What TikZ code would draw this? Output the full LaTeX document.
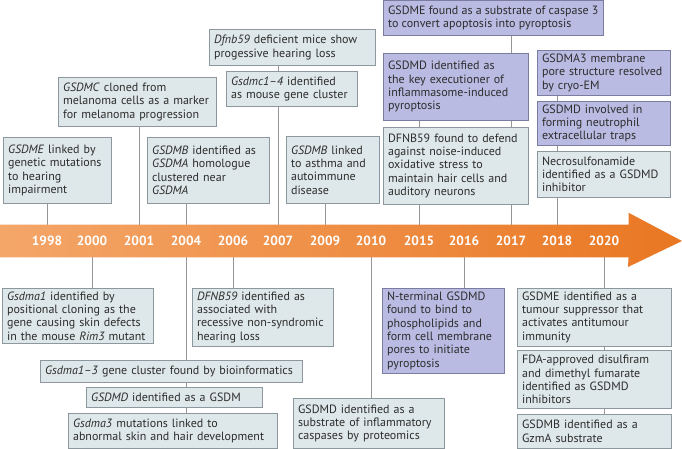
\documentclass[tikz,border=0pt]{standalone}
\usepackage{fontspec}
\setmainfont{PT Sans}
\usetikzlibrary{positioning,backgrounds}
\definecolor{boxfill}{RGB}{222,231,233}
\definecolor{boxline}{RGB}{140,152,157}
\definecolor{purplefill}{RGB}{185,187,226}
\definecolor{purpleline}{RGB}{122,124,160}
\definecolor{txt}{RGB}{45,45,45}
\definecolor{conn}{RGB}{150,150,150}
\definecolor{orangeL}{RGB}{244,166,105}
\definecolor{orangeR}{RGB}{233,119,34}
\tikzset{
  box/.style={rectangle, draw=boxline, fill=boxfill, anchor=north west, align=left, text=txt, font=\fontsize{9}{10}\selectfont, inner xsep=3.5pt, inner ysep=2.5pt, line width=0.6pt},
  pbox/.style={box, fill=purplefill, draw=purpleline},
  year/.style={text=white, font=\fontsize{10}{12}\selectfont\bfseries, inner sep=0pt},
  link/.style={draw=conn, line width=0.75pt}
}

\begin{document}
\begin{tikzpicture}[x=0.75pt, y=-0.75pt, node distance=3.75pt]
\useasboundingbox (0,0) rectangle (682,449);

% timeline arrow
\node[inner sep=0pt, minimum width=471pt, minimum height=24pt, anchor=west] (band) at (0,241) {};
\shade[left color=orangeL, right color=orangeR] (band.north west) -- (band.north east) -- ++(0,-12) -- (682,241) -- (628,267) -- (band.south east) -- (band.south west) -- cycle;
\node[year] (y1998) at (47,241) {1998};
\node[year] (y2000) at (92,241) {2000};
\node[year] (y2001) at (139,241) {2001};
\node[year] (y2004) at (186,241) {2004};
\node[year] (y2006) at (233,241) {2006};
\node[year] (y2007) at (278,241) {2007};
\node[year] (y2009) at (325,241) {2009};
\node[year] (y2010) at (371,241) {2010};
\node[year] (y2015) at (419,241) {2015};
\node[year] (y2016) at (464,241) {2016};
\node[year] (y2017) at (511,241) {2017};
\node[year] (y2018) at (557,241) {2018};
\node[year] (y2020) at (604,241) {2020};

% above the arrow
\node[box, text width=74pt, minimum height=49.5pt] (t1998) at (3,137) {\textit{GSDME} linked by\\genetic mutations\\to hearing\\impairment};
\node[box, text width=111.5pt, minimum height=36.75pt] (t2001) at (58,77) {\textit{GSDMC} cloned from\\melanoma cells as a marker\\for melanoma progression};
\node[box, text width=84.5pt, minimum height=49.5pt] (t2004) at (147,137) {\textit{GSDMB} identified as\\\textit{GSDMA} homologue\\clustered near\\\textit{GSDMA}};
\node[box, text width=117.5pt, minimum height=27pt] (t2007a) at (209,29) {\textit{Dfnb59} deficient mice show\\progessive hearing loss};
\node[box, text width=91.25pt, minimum height=26.25pt] (t2007b) at (226,71) {\textit{Gsdmc1–4} identified\\as mouse gene cluster};
\node[box, text width=62.75pt, minimum height=50.25pt] (t2009) at (286,136) {\textit{GSDMB} linked\\to asthma and\\autoimmune\\disease};
\node[pbox, minimum height=26.25pt] (t2017) at (383,0) {GSDME found as a substrate of caspase 3\\to convert apoptosis into pyroptosis};
\node[pbox, text width=101.75pt, minimum height=50.25pt] (t2015a) at (383,53) {GSDMD identified as\\the key executioner of\\inflammasome-induced\\pyroptosis};
\node[box, text width=101.75pt, minimum height=57.75pt, below=4.5pt of t2015a.south west, anchor=north west] (t2015b) {DFNB59 found to defend\\against noise-induced\\oxidative stress to\\maintain hair cells and\\auditory neurons};
\node[pbox, text width=92.75pt, minimum height=33.75pt] (t2018a) at (537,50) {GSDMA3 membrane\\pore structure resolved\\by cryo-EM};
\node[pbox, text width=92.75pt, minimum height=31.5pt, below=of t2018a.south west, anchor=north west] (t2018b) {GSDMD involved in\\forming neutrophil\\extracellular traps};
\node[box, text width=92.75pt, minimum height=34.5pt, below=of t2018b.south west, anchor=north west] (t2018c) {Necrosulfonamide\\identified as a GSDMD\\inhibitor};

% below the arrow
\node[box, text width=106.25pt, minimum height=40.5pt] (b2000) at (2,288) {\textit{Gsdma1} identified by\\positional cloning as the\\gene causing skin defects\\in the mouse \textit{Rim3} mutant};
\node[box, text width=98.75pt, minimum height=40.5pt] (b2006) at (192,288) {\textit{DFNB59} identified as\\associated with\\recessive non-syndromic\\hearing loss};
\node[box, text width=189.5pt, minimum height=16.5pt] (b2004a) at (40,360) {\textit{Gsdma1–3} gene cluster found by bioinformatics};
\node[box, text width=125pt, minimum height=15pt] (b2004b) at (86,387) {\textit{GSDMD} identified as a GSDM};
\node[box, text width=149.75pt, minimum height=26.25pt] (b2004c) at (68,413) {\textit{Gsdma3} mutations linked to\\abnormal skin and hair development};
\node[box, text width=106.25pt, minimum height=37.5pt] (b2010) at (293,398) {GSDMD identified as a\\substrate of inflammatory\\caspases by proteomics};
\node[pbox, text width=84.5pt, minimum height=63.75pt] (b2016) at (382,288) {N-terminal GSDMD\\found to bind to\\phospholipids and\\form cell membrane\\pores to initiate\\pyroptosis};
\node[box, text width=108.5pt, minimum height=40.5pt] (b2020a) at (517,288) {GSDME identified as a\\tumour suppressor that\\activates antitumour\\immunity};
\node[box, text width=108.5pt, minimum height=44pt, below=2.5pt of b2020a.south west, anchor=north west] (b2020b) {FDA-approved disulfiram\\and dimethyl fumarate\\identified as GSDMD\\inhibitors};
\node[box, text width=108.5pt, minimum height=25pt, below=of b2020b.south west, anchor=north west] (b2020c) {GSDMB identified as a\\GzmA substrate};

% connectors
\begin{scope}[on background layer]
\draw[link] (y1998 |- t1998.south) -- (y1998 |- band.north);
\draw[link] (y2001 |- t2001.south) -- (y2001 |- band.north);
\draw[link] (y2004 |- t2004.south) -- (y2004 |- band.north);
\draw[link] (y2007 |- t2007a.south) -- (y2007 |- band.north);
\draw[link] (y2009 |- t2009.south) -- (y2009 |- band.north);
\draw[link] (y2015 |- t2015a.south) -- (y2015 |- band.north);
\draw[link] (y2017 |- t2017.south) -- (y2017 |- band.north);
\draw[link] (y2018 |- t2018a.south) -- (y2018 |- band.north);
\draw[link] (y2000 |- band.south) -- (y2000 |- b2000.north);
\draw[link] (y2004 |- band.south) -- (y2004 |- b2004c.north);
\draw[link] (y2006 |- band.south) -- (y2006 |- b2006.north);
\draw[link] (y2010 |- band.south) -- (y2010 |- b2010.north);
\draw[link] (y2016 |- band.south) -- (y2016 |- b2016.north);
\draw[link] (y2020 |- band.south) -- (y2020 |- b2020c.north);
\end{scope}
\end{tikzpicture}
\end{document}
